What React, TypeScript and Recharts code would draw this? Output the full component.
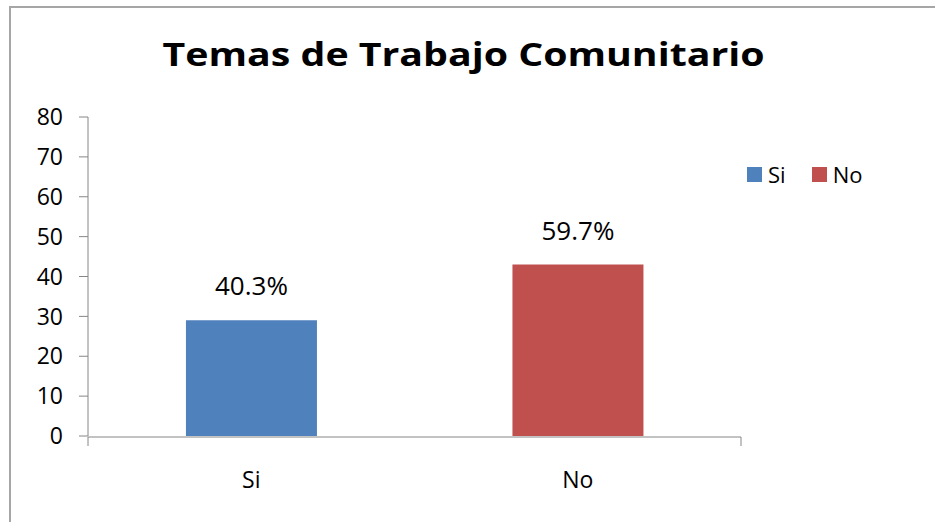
import { BarChart, Bar, XAxis, YAxis, Cell, LabelList } from "recharts";

const categories = ["Si", "No"];
const counts = [29, 43];
const percentLabels = ["40.3%", "59.7%"];
const barColors = ["#4F81BD", "#C0504D"];
const yTicks = [0, 10, 20, 30, 40, 50, 60, 70, 80];

const data = categories.map((name, i) => ({
  name,
  count: counts[i],
  pct: percentLabels[i],
}));

const FONT = "'Open Sans', sans-serif";
const AXIS_GRAY = "#868686";

export default function App() {
  return (
    <div style={{ position: "fixed", left: 0, top: 0, width: 935, height: 522, overflow: "hidden", background: "#fff" }}>
      <style>{"html, body { margin: 0; overflow: hidden; }"}</style>
      {/* chart frame: only left and top edges are inside the picture */}
      <div style={{ position: "absolute", left: 9, top: 6, width: 926, height: 516, borderLeft: "2px solid #a6a6a6", borderTop: "2px solid #a6a6a6" }} />

      <div style={{
        position: "absolute", left: 0, top: 32, width: 927, textAlign: "center",
        fontFamily: FONT, fontWeight: 700, fontSize: 33, lineHeight: "44px", color: "#000",
        transform: "scaleX(1.19)", transformOrigin: "463px 0",
      }}>
        Temas de Trabajo Comunitario
      </div>

      {/* legend */}
      <div style={{ position: "absolute", left: 747, top: 160, display: "flex", alignItems: "center", fontFamily: FONT, fontSize: 22, lineHeight: "28px", color: "#000" }}>
        {categories.map((c, i) => (
          <div key={c} style={{ display: "flex", alignItems: "center", marginRight: 26 }}>
            <span style={{ display: "inline-block", width: 15, height: 15, background: barColors[i], marginRight: 6 }} />
            <span>{c}</span>
          </div>
        ))}
      </div>

      <div style={{ position: "absolute", left: 0, top: 0 }}>
        <BarChart
          width={935}
          height={522}
          data={data}
          margin={{ top: 117, right: 194, bottom: 84, left: 0 }}
          barCategoryGap="30%"
        >
          <YAxis
            domain={[0, 80]}
            ticks={yTicks}
            width={88}
            interval={0}
            tickSize={9}
            tickMargin={16}
            stroke={AXIS_GRAY}
            tick={{ fill: "#000", fontSize: 23, fontFamily: FONT }}
          />
          <XAxis
            xAxisId="frame"
            type="number"
            domain={[0, 2]}
            ticks={[0, 1, 2]}
            interval={0}
            height={1}
            tickFormatter={() => ""}
            tickSize={9}
            stroke={AXIS_GRAY}
          />
          <XAxis
            xAxisId="cat"
            dataKey="name"
            height={1}
            axisLine={false}
            tickLine={false}
            tickSize={0}
            tickMargin={36}
            tick={{ fill: "#000", fontSize: 23, fontFamily: FONT }}
          />
          <Bar dataKey="count" xAxisId="cat" isAnimationActive={false}>
            {data.map((d, i) => (
              <Cell key={d.name} fill={barColors[i]} />
            ))}
            <LabelList
              dataKey="pct"
              position="top"
              offset={25}
              fill="#000"
              fontSize={26}
              fontFamily={FONT}
            />
          </Bar>
        </BarChart>
      </div>
    </div>
  );
}
